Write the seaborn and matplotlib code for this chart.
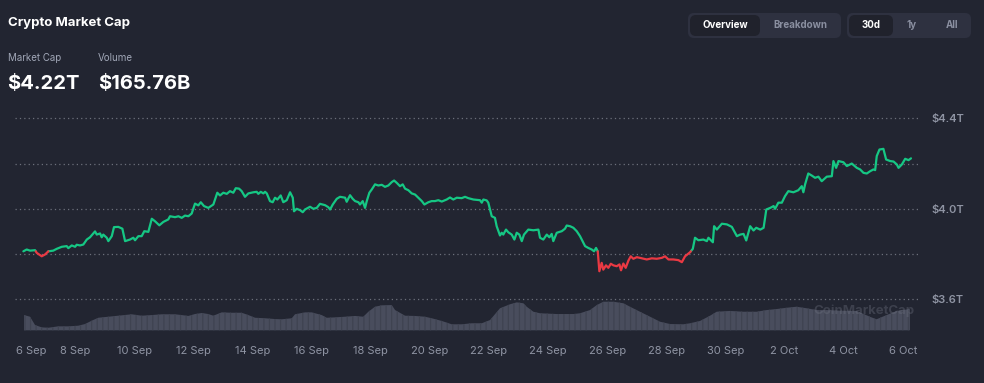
import numpy as np
import pandas as pd
import matplotlib
matplotlib.use("Agg")
import matplotlib.pyplot as plt
from matplotlib.patches import FancyBboxPatch
import seaborn as sns

# ---- data ----
start = pd.Timestamp("2025-09-06 00:00")

# market cap, trillions USD, hours after 6 Sep 00:00
cap_hours = [
    5.8, 8.5, 11.2, 15.3, 16.7, 20.7, 23.4, 26.1, 30.1, 32.9,
    37.0, 41.0, 42.3, 45.1, 47.8, 49.1, 51.8, 54.5, 57.3, 59.9,
    64.0, 65.4, 68.1, 69.4, 70.7, 73.5, 74.8, 77.6, 79.4, 82.9,
    86.2, 88.4, 92.4, 95.1, 96.5, 99.2, 101.9, 104.0, 107.3, 110.1,
    112.7, 116.2, 119.5, 123.5, 124.9, 129.0, 131.7, 134.4, 137.1, 139.8,
    142.5, 145.2, 147.9, 149.9, 152.5, 156.0, 160.1, 163.3, 165.5, 168.2,
    171.0, 173.6, 176.3, 178.3, 181.0, 183.1, 185.8,
    188.5, 192.6, 195.3, 196.6, 198.6, 200.7, 202.1, 203.5, 206.1, 208.3,
    210.2, 212.1, 214.8, 216.9, 219.7, 222.4, 224.6, 225.6, 227.8, 230.5,
    232.7, 234.6, 238.6, 241.3, 244.1, 246.7, 250.8, 253.5, 254.9, 257.1,
    260.3, 263.0, 267.1, 268.4, 271.1, 273.3, 275.2, 277.9, 279.2, 281.4,
    283.3, 284.7, 286.8, 288.7, 291.4, 294.1, 296.9, 299.5, 302.2, 305.0,
    306.9, 309.0, 311.7, 313.9, 315.8, 318.5, 321.2, 323.9, 326.6, 329.4,
    331.5, 334.7, 337.4, 340.1, 342.8, 345.6, 349.6, 352.3, 355.0, 357.8,
    361.8, 364.5,
    367.2, 371.3, 376.7, 378.1, 379.4, 382.1, 383.4, 384.8, 386.2, 388.8,
    390.2, 392.9, 394.3, 395.6, 397.8, 399.7, 402.4, 404.6, 406.5, 408.6,
    410.6, 412.4, 415.9, 420.0, 424.1, 425.4, 428.1, 430.9, 433.0, 434.9,
    436.2, 439.0, 443.1, 445.7, 447.1, 449.8, 452.5, 455.2, 457.9, 459.3,
    462.0, 464.6, 467.4, 469.3, 470.9, 472.3, 473.6, 475.5, 476.8, 479.0,
    480.9, 482.9, 485.0, 487.7, 489.9, 491.2, 493.1, 495.0, 497.2, 499.1,
    501.2, 504.0, 506.6,
    512.1, 516.2, 520.2, 524.3, 527.0, 529.7, 533.7, 537.8, 540.6, 543.2,
    547.3, 549.5, 551.3, 554.0, 558.1, 560.9, 562.2, 565.8, 566.8, 569.0,
    573.1, 577.2, 581.2, 585.3, 588.0, 590.7, 592.9, 596.1, 598.8, 601.0,
    604.3, 607.0, 609.2, 612.4, 615.1, 616.3, 619.0, 621.8, 624.4, 627.1,
    631.2, 635.2, 638.0, 639.3, 640.7, 643.3, 646.1, 648.8, 651.5, 654.2,
    658.3, 662.4, 663.7, 665.9, 667.8, 671.8, 674.6, 678.6, 682.7, 685.4,
    688.1, 690.8, 693.5, 696.2, 697.6, 698.9, 701.1, 704.3, 706.5, 709.8,
    712.5, 715.2, 716.6, 719.3, 722.0, 724.7, 726.7,
]
cap = [
    3.812, 3.820, 3.815, 3.817, 3.805, 3.790, 3.798, 3.812, 3.815, 3.823,
    3.832, 3.835, 3.826, 3.838, 3.832, 3.841, 3.838, 3.842, 3.864, 3.874,
    3.900, 3.886, 3.891, 3.874, 3.886, 3.872, 3.857, 3.879, 3.919, 3.920,
    3.912, 3.857, 3.864, 3.872, 3.861, 3.879, 3.879, 3.901, 3.898, 3.956,
    3.945, 3.927, 3.942, 3.953, 3.967, 3.963, 3.967, 3.960, 3.970, 3.967,
    3.979, 4.023, 4.015, 4.029, 4.012, 4.004, 4.019, 4.071, 4.059, 4.071,
    4.066, 4.078, 4.071, 4.091, 4.089, 4.078, 4.053,
    4.068, 4.073, 4.075, 4.066, 4.075, 4.068, 4.075, 4.068, 4.034, 4.029,
    4.049, 4.041, 4.059, 4.029, 4.038, 4.073, 4.049, 3.989, 4.000, 3.994,
    3.985, 3.997, 4.009, 4.000, 4.004, 4.022, 4.016, 4.007, 3.997, 4.019,
    4.044, 4.053, 4.049, 4.031, 4.060, 4.044, 4.034, 4.029, 4.019, 4.034,
    4.004, 4.034, 4.071, 4.085, 4.108, 4.103, 4.106, 4.097, 4.103, 4.118,
    4.125, 4.115, 4.100, 4.108, 4.089, 4.082, 4.068, 4.063, 4.049, 4.034,
    4.019, 4.029, 4.034, 4.034, 4.038, 4.032, 4.041, 4.050, 4.041, 4.049,
    4.047, 4.053,
    4.047, 4.041, 4.038, 4.027, 4.041, 4.037, 4.027, 3.997, 3.967, 3.960,
    3.923, 3.882, 3.894, 3.886, 3.908, 3.896, 3.886, 3.864, 3.894, 3.886,
    3.857, 3.886, 3.908, 3.905, 3.908, 3.872, 3.864, 3.886, 3.874, 3.889,
    3.857, 3.894, 3.901, 3.912, 3.926, 3.923, 3.916, 3.901, 3.879, 3.864,
    3.835, 3.827, 3.820, 3.812, 3.827, 3.812, 3.724, 3.761, 3.731, 3.750,
    3.739, 3.757, 3.750, 3.746, 3.754, 3.728, 3.758, 3.739, 3.771, 3.790,
    3.779, 3.786, 3.783,
    3.776, 3.781, 3.779, 3.783, 3.790, 3.776, 3.776, 3.773, 3.764, 3.790,
    3.808, 3.823, 3.872, 3.861, 3.864, 3.857, 3.872, 3.852, 3.923, 3.908,
    3.934, 3.931, 3.920, 3.879, 3.886, 3.889, 3.860, 3.923, 3.904, 3.916,
    3.908, 3.916, 3.997, 4.004, 4.012, 4.000, 4.027, 4.027, 4.056, 4.078,
    4.073, 4.082, 4.100, 4.073, 4.108, 4.156, 4.147, 4.137, 4.142, 4.122,
    4.142, 4.144, 4.211, 4.181, 4.211, 4.206, 4.189, 4.200, 4.181, 4.174,
    4.159, 4.156, 4.166, 4.174, 4.171, 4.233, 4.262, 4.265, 4.218, 4.211,
    4.209, 4.196, 4.181, 4.196, 4.221, 4.215, 4.223,
]

# 24h volume, billions USD
vol_hours = [
    6.3, 11.2, 15.3, 20.7, 26.1, 34.2, 42.3, 50.4, 55.9, 61.3,
    66.7, 74.8, 82.9, 93.8, 101.9, 110.1, 118.2, 129.0, 134.4, 139.8,
    145.2, 150.7, 156.0, 160.1, 166.9, 175.0, 183.1, 188.5, 194.0, 202.1,
    210.2, 215.6, 223.8, 226.4, 234.6, 240.0, 248.1, 252.2, 258.9, 267.1,
    275.2, 281.9, 286.0, 291.4, 296.9, 305.0, 307.7, 315.8, 323.9, 332.0,
    337.5, 345.6, 353.7, 361.8, 370.0, 378.1, 384.8, 392.9, 401.0, 406.5,
    411.9, 414.6, 420.0, 425.4, 439.0, 452.5, 457.9, 466.0, 471.5, 476.9,
    485.0, 493.1, 498.5, 506.6, 514.8, 522.9, 531.0, 541.8, 547.3, 555.4,
    563.5, 568.9, 579.7, 590.5, 601.4, 609.5, 617.6, 625.7, 633.8, 641.9,
    650.1, 658.2, 669.0, 682.5, 693.3, 698.7, 706.9, 715.0, 725.8,
]
volume = [
    119, 106, 41, 23, 20, 31, 31, 36, 49, 75,
    98, 106, 114, 125, 114, 119, 125, 125, 119, 112,
    127, 135, 127, 114, 140, 137, 137, 119, 98, 94,
    88, 86, 94, 125, 140, 140, 119, 98, 101, 106,
    112, 106, 145, 184, 195, 197, 158, 114, 112, 106,
    94, 73, 47, 47, 55, 55, 80, 172, 203, 218,
    211, 184, 145, 133, 127, 127, 133, 158, 197, 223,
    223, 211, 184, 145, 106, 67, 49, 47, 55, 73,
    114, 145, 151, 145, 145, 158, 166, 176, 184, 172,
    158, 158, 153, 151, 106, 86, 119, 151, 166,
]

tick_days = pd.date_range("2025-09-06", "2025-10-06", freq="2D")
y_ticks = [3.6, 4.0, 4.4]
y_grid = [3.8, 4.2]

BG = "#222531"
GREEN = "#16c784"
RED = "#ea3943"
GREY_TXT = "#8f94a3"

# ---- split line into up/down runs around the opening value ----
base = cap[0]
rows = []
run = 0
prev_up = True
for i, (h, c) in enumerate(zip(cap_hours, cap)):
    up = c >= base
    if i > 0 and up != prev_up:
        h0, c0 = cap_hours[i - 1], cap[i - 1]
        hc = h0 + (base - c0) / (c - c0) * (h - h0)
        rows.append((hc, base, run, prev_up))
        run += 1
        rows.append((hc, base, run, up))
    rows.append((h, c, run, up))
    prev_up = up
line_df = pd.DataFrame(rows, columns=["hours", "cap", "run", "up"])
line_df["time"] = start + pd.to_timedelta(line_df["hours"], unit="h")
line_df["trend"] = np.where(line_df["up"], "up", "down")

vol_df = pd.DataFrame({"time": start + pd.to_timedelta(vol_hours, unit="h"),
                       "volume": volume})

# ---- figure ----
sns.set_theme(style="dark", rc={"axes.facecolor": BG, "figure.facecolor": BG})
plt.rcParams["font.family"] = ["Inter", "DejaVu Sans"]
plt.rcParams["hatch.linewidth"] = 0.9

fig = plt.figure(figsize=(9.84, 3.83), dpi=100)
ax = fig.add_axes([15 / 984, 49.8 / 383, 903 / 984, 226.2 / 383])
ax2 = ax.twinx()
ax2.set_zorder(ax.get_zorder() - 1)
ax.patch.set_visible(False)
ax2.patch.set_visible(True)
ax2.patch.set_facecolor(BG)

# volume
ax2.fill_between(vol_df["time"], vol_df["volume"],
                 facecolor="#494d5d", edgecolor="#3f4351", linewidth=0,
                 hatch="|||")
ax2.set_ylim(-22.6, 1742)
ax2.set_yticks([])
for s in ax2.spines.values():
    s.set_visible(False)

# price line
sns.lineplot(data=line_df, x="time", y="cap", hue="trend", units="run",
             estimator=None, sort=False, palette={"up": GREEN, "down": RED},
             linewidth=1.6, legend=False, ax=ax)

ax.set_ylim(3.45, 4.45)
ax.set_xlim(start - pd.Timedelta(hours=1), start + pd.Timedelta(hours=732.4))
ax.set_xlabel("")
ax.set_ylabel("")

ax.yaxis.tick_right()
ax.set_yticks(y_ticks)
ax.set_yticks(y_grid, minor=True)
ax.set_yticklabels([f"${v:.1f}T" for v in y_ticks])
ax.tick_params(axis="y", which="both", length=0, pad=10, labelsize=8,
               labelcolor=GREY_TXT)
for lbl in ax.get_yticklabels():
    lbl.set_fontweight("semibold")
ax.grid(True, axis="y", which="both", color="#80848f", linestyle=(0, (1, 2.5)),
        linewidth=0.9, alpha=0.8)
ax.grid(False, axis="x")

ax.set_xticks(tick_days)
ax.set_xticklabels([d.strftime("%-d %b") for d in tick_days])
ax.tick_params(axis="x", length=0, pad=9, labelsize=8, labelcolor=GREY_TXT)
ax.get_xticklabels()[0].set_horizontalalignment("left")
for s in ax.spines.values():
    s.set_visible(False)

# watermark
fig.text(864 / 984, 1 - 311 / 383, "CoinMarketCap", ha="center", va="center",
         fontsize=9.5, fontweight="bold", color="#707482", alpha=0.35)

# header
def px(x, y):
    return x / 984, 1 - y / 383

fig.text(*px(8, 23), "Crypto Market Cap", ha="left", va="center",
         fontsize=9.5, fontweight="bold", color="white")
fig.text(*px(8, 58), "Market Cap", ha="left", va="center", fontsize=7,
         color="#a1a7b7")
fig.text(*px(98, 58), "Volume", ha="left", va="center", fontsize=7,
         color="#a1a7b7")
fig.text(*px(7, 84), "$4.22T", ha="left", va="center", fontsize=14.5,
         fontweight="bold", color="white")
fig.text(*px(98, 84), "$165.76B", ha="left", va="center", fontsize=14.5,
         fontweight="bold", color="white")

# toggle buttons
def pill(x0, x1, y0, y1, color):
    w, h = (x1 - x0) / 984, (y1 - y0) / 383
    fig.patches.append(FancyBboxPatch(px(x0, y1), w, h,
                                      boxstyle="round,pad=0,rounding_size=0.006",
                                      transform=fig.transFigure, facecolor=color,
                                      edgecolor="none", mutation_aspect=984 / 383))

pill(688, 841, 13, 38, "#2e3140")
pill(690, 760, 15, 36, "#20222c")
pill(847, 971, 13, 38, "#2e3140")
pill(849, 893, 15, 36, "#20222c")
for x, label, sel in [(725, "Overview", True), (800, "Breakdown", False),
                      (871, "30d", True), (912, "1y", False), (952, "All", False)]:
    fig.text(*px(x, 25), label, ha="center", va="center", fontsize=7,
             fontweight="bold", color="white" if sel else "#8a8fa0")

fig.savefig("out.png", dpi=100, facecolor=BG)
